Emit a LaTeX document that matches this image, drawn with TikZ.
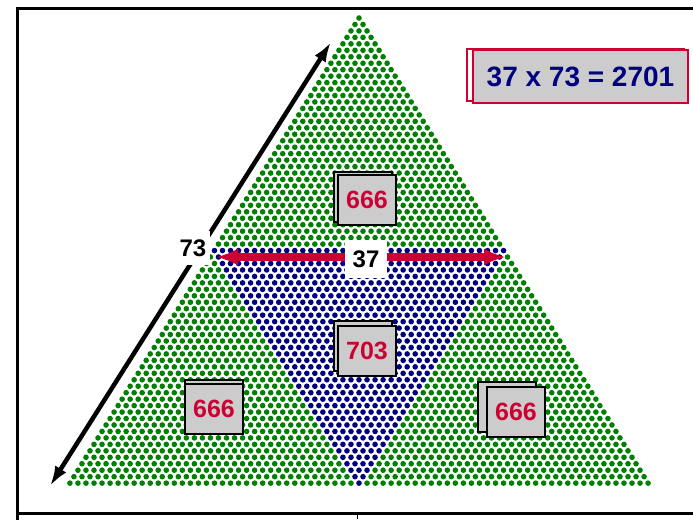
\documentclass[tikz,border=0pt]{standalone}
\usepackage{fontspec}
\setmainfont{Liberation Sans}
\usetikzlibrary{arrows.meta,shadows}
\definecolor{dotgreen}{RGB}{0,128,0}
\definecolor{dotblue}{RGB}{0,0,128}
\definecolor{numred}{RGB}{204,0,51}
\definecolor{boxgray}{RGB}{204,204,204}
\begin{document}
\begin{tikzpicture}[x=1pt, y=-1pt,
    numbox/.style={draw=black, line width=2.2pt, fill=boxgray, minimum width=58pt, minimum height=50pt,
        text=numred, font=\bfseries\fontsize{25}{27}\selectfont},
    lenlabel/.style={fill=white, inner sep=0pt, font=\bfseries\fontsize{24}{26}\selectfont}]
    \useasboundingbox (0,0) rectangle (693,520);
    % Khung
    \draw[line width=3pt] (693,8) -- (17,8) -- (17,520);
    \draw[line width=3pt] (17,513) -- (693,513);
    \draw[line width=1pt] (357,515) -- (357,519);
    % Tam giác 73 hàng chấm
    \foreach \r in {0,...,72} {
        \foreach \i in {0,...,\r} {
            \pgfmathtruncatemacro{\isblue}{(\r>35)*(\i>=\r-36)*(\i<=36)}
            \ifnum\isblue=1 \def\dotcol{dotblue}\else\def\dotcol{dotgreen}\fi
            \fill[\dotcol] ({359+(\i-\r/2)*8.03},{18+\r*6.46}) circle (2.8pt);
        }
    }
    % Cạnh 73
    \coordinate (sideA) at (50,486);
    \coordinate (sideB) at (331,42);
    \draw[{Latex[length=20pt,width=13pt]}-{Latex[length=20pt,width=13pt]}, line width=4.5pt] (sideA) -- (sideB);
    \node[lenlabel, minimum width=34pt, minimum height=34pt] (n73) at (193,248) {73};
    % Cạnh 37
    \coordinate (rowL) at (216,257);
    \coordinate (rowR) at (506,257);
    \draw[numred, {Latex[length=22pt,width=17pt]}-{Latex[length=22pt,width=17pt]}, line width=7.5pt] (rowL) -- (rowR);
    \node[lenlabel, minimum width=42pt, minimum height=38pt] (n37) at (366,259) {37};
    % Các phần
    \node[numbox, copy shadow={shadow xshift=-4pt, shadow yshift=3pt}] (topPart) at (367,200) {666};
    \node[numbox, copy shadow={shadow xshift=-4pt, shadow yshift=5pt}] (midPart) at (367,351) {703};
    \node[numbox, copy shadow={shadow xshift=0pt, shadow yshift=4pt}] (leftPart) at (214,409) {666};
    \node[numbox, copy shadow={shadow xshift=-9pt, shadow yshift=5pt}] (rightPart) at (516,412) {666};
    % Kết quả
    \draw[numred, line width=1.5pt, fill=white] (467,49) rectangle (684,101);
    \node[draw=numred, line width=1.5pt, fill=boxgray, minimum width=215pt, minimum height=53pt,
        text=dotblue, font=\bfseries\fontsize{28}{30}\selectfont] (eq) at (580.5,76.5) {37 x 73 = 2701};
\end{tikzpicture}
\end{document}
